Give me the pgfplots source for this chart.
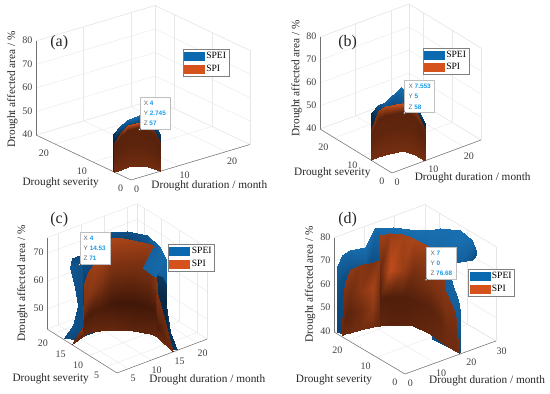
\documentclass[border=0pt]{standalone}
\usepackage{fontspec}
\usepackage{pgfplots}
\pgfplotsset{compat=1.18}
\setmainfont{Liberation Serif}
\newfontfamily\tipf{Liberation Sans}
\definecolor{speic}{RGB}{10,105,175}
\definecolor{spic}{RGB}{214,82,28}
\definecolor{tipc}{RGB}{25,155,235}
\tikzset{tipbox/.style={draw=black!25,fill=white,line width=.4pt,anchor=south west,minimum width=30pt,minimum height=32pt,inner sep=2pt,align=left,font=\tipf\fontsize{6.4}{10.2}\selectfont,text=black!60}}
\pgfplotsset{
 colormap={spi}{rgb255=(45,15,5) rgb255=(125,50,18) rgb255=(218,88,32)},
 colormap={spei}{rgb255=(5,25,45) rgb255=(14,78,132) rgb255=(30,125,195)},
 sf/.style={surf,shader=interp,point meta=explicit,forget plot,colormap name=#1},
 pan/.style={clip=false,anchor=origin,grid=major,grid style={black!9,line width=.4pt},
  axis line style={black!10,line width=.4pt},major tick length=0pt,
  point meta min=0,point meta max=1,
  /pgf/number format/assume math mode=true,
  tick label style={font=\fontsize{10}{12}\selectfont,text=black!75},
  xticklabel style={xshift=1pt,yshift=-1.5pt},yticklabel style={xshift=-5pt,yshift=-1pt},
  label style={font=\fontsize{11.3}{12}\selectfont,text=black!85},
  legend cell align=left,
  legend style={draw=black!50,line width=.4pt,font=\fontsize{9.6}{11}\selectfont,inner sep=1pt,row sep=.6pt,anchor=north west,fill=white},
  xlabel={Drought duration / month},ylabel={Drought severity},zlabel={Drought affected area / \%},
 },
 swa/.style={legend image code/.code={\fill[#1] (0pt,-4pt) rectangle (20pt,4pt);}},
 tipm/.style={only marks,mark=*,mark size=1.3pt,mark options={fill=white,draw=black!75,line width=.4pt},forget plot},
 edg/.style={black!55,line width=.5pt,forget plot},
}
\newcommand{\tiptxt}[3]{X {\color{tipc}\bfseries #1}\\Y {\color{tipc}\bfseries #2}\\Z {\color{tipc}\bfseries #3}}
\begin{document}
\begin{tikzpicture}
\useasboundingbox (0,0) rectangle (550pt,394pt);
% ---------------- (a)
\begin{axis}[pan,at={(131pt,214pt)},x={(4.76pt,1.42pt)},y={(-3.8pt,1.8pt)},z={(0pt,2.35pt)},
 xmin=0,xmax=25,ymin=0,ymax=25,zmin=40,zmax=80,xtick={0,10,20},ytick={0,10,20},ztick={40,50,60,70,80},
 xlabel style={at={(axis cs:0,0,40)},anchor=center,xshift=78.3pt,yshift=-6pt},
 ylabel style={at={(axis cs:0,0,40)},anchor=center,xshift=-70.3pt,yshift=-2.7pt},
 zlabel style={at={(axis cs:0,0,40)},anchor=center,xshift=90.7pt,yshift=118.7pt},
 legend style={at={(axis cs:0,0,40)},xshift=51.7pt,yshift=130.7pt}]
\addplot3[edg] coordinates {(0,0,40)(25,0,40)};
\addplot3[edg] coordinates {(0,0,40)(0,25,40)};
\addplot3[edg] coordinates {(0,25,40)(0,25,80)};
\addplot3[sf=spei,mesh/cols=4] table[meta=m,row sep=\\]{x y z m\\
0 4.7 40 .1\\0 4.7 47.9 .1\\0 4.7 52.6 .1\\0 4.7 55.8 .2\\
1.5 4.8 40 .1\\1.5 4.8 49.3 .1\\1.5 4.8 54.9 .15\\1.5 4.8 58.6 .6\\
3 4.8 40 .1\\3 4.8 50.1 .1\\3 4.8 56.2 .2\\3 4.8 60.2 .75\\
5 4.2 40 .1\\5 4.2 50.8 .1\\5 4.2 57.3 .2\\5 4.2 61.6 .9\\
5.8 2.8 40 .1\\5.8 2.8 49.8 .1\\5.8 2.8 55.7 .2\\5.8 2.8 59.6 .8\\
6 1.4 40 .1\\6 1.4 49.8 .1\\6 1.4 55.7 .2\\6 1.4 59.6 .6\\
6.3 0 40 .1\\6.3 0 47.3 .1\\6.3 0 51.7 .15\\6.3 0 54.6 .25\\
};
\addplot3[sf=spi,mesh/cols=4] table[meta=m,row sep=\\]{x y z m\\
0 4.4 40 .42\\0 4.4 46.2 .3\\0 4.4 50.9 .25\\0 4.4 52.4 .3\\
1.5 4.6 40 .42\\1.5 4.6 48 .3\\1.5 4.6 54.1 .28\\1.5 4.6 56 .5\\
3 4.6 40 .42\\3 4.6 49 .3\\3 4.6 55.8 .28\\3 4.6 58 .85\\
5 4 40 .42\\5 4 49.3 .3\\5 4 56.4 .28\\5 4 58.6 .95\\
5.7 2.7 40 .42\\5.7 2.7 48.7 .3\\5.7 2.7 55.3 .28\\5.7 2.7 57.4 .7\\
5.9 1.4 40 .42\\5.9 1.4 48.1 .3\\5.9 1.4 54.3 .28\\5.9 1.4 56.2 .4\\
6.1 0 40 .42\\6.1 0 46 .3\\6.1 0 50.6 .25\\6.1 0 52 .3\\
};
\node[tipbox] at (axis cs:4,2.745,57) {\tiptxt{4}{2.745}{57}};
\addplot3[tipm] coordinates {(4,2.745,57)};
\node[font=\fontsize{16}{18}\selectfont,text=black!85] at (axis cs:0,0,40) [xshift=-71.7pt,yshift=137.7pt] {(a)};
\addlegendimage{swa=speic}\addlegendentry{SPEI}
\addlegendimage{swa=spic}\addlegendentry{SPI}
\end{axis}
% ---------------- (b)
\begin{axis}[pan,at={(392pt,221pt)},x={(3.56pt,1.32pt)},y={(-2.88pt,1.76pt)},z={(0pt,2.3pt)},
 xmin=0,xmax=25,ymin=0,ymax=25,zmin=40,zmax=80,xtick={0,10,20},ytick={0,10,20},ztick={40,50,60,70,80},
 xlabel style={at={(axis cs:0,0,40)},anchor=center,xshift=80.7pt,yshift=-5.3pt},
 ylabel style={at={(axis cs:0,0,40)},anchor=center,xshift=-59.7pt,yshift=-.3pt},
 zlabel style={at={(axis cs:0,0,40)},anchor=center,xshift=94.7pt,yshift=95.3pt},
 legend style={at={(axis cs:0,0,40)},xshift=30.7pt,yshift=125.3pt}]
\addplot3[edg] coordinates {(0,0,40)(25,0,40)};
\addplot3[edg] coordinates {(0,0,40)(0,25,40)};
\addplot3[edg] coordinates {(0,25,40)(0,25,80)};
\addplot3[sf=spei,mesh/cols=4] table[meta=m,row sep=\\]{x y z m\\
0 7.4 40 .1\\0 7.4 50.3 .1\\0 7.4 56.4 .12\\0 7.4 60.5 .15\\
2 7.5 40 .1\\2 7.5 51.4 .1\\2 7.5 58.2 .2\\2 7.5 62.8 .5\\
3.9 7.4 40 .1\\3.9 7.4 51.5 .1\\3.9 7.4 58.4 .3\\3.9 7.4 63 .7\\
8 6.6 40 .1\\8 6.6 53.9 .1\\8 6.6 62.2 .6\\8 6.6 67.8 .85\\
8.8 5.1 40 .1\\8.8 5.1 52.5 .1\\8.8 5.1 60 .6\\8.8 5.1 65 .75\\
9.3 3.4 40 .1\\9.3 3.4 51.1 .1\\9.3 3.4 57.8 .2\\9.3 3.4 62.2 .5\\
9.4 0 40 .1\\9.4 0 48.2 .1\\9.4 0 53.1 .12\\9.4 0 56.4 .2\\
};
\addplot3[sf=spi,mesh/cols=4] table[meta=m,row sep=\\]{x y z m\\
0 7.3 40 .45\\0 7.3 46.6 .32\\0 7.3 50.7 .27\\0 7.3 53.1 .35\\
2 7.4 40 .45\\2 7.4 50.1 .32\\2 7.4 56.6 .3\\2 7.4 60.2 .6\\
3.9 7.3 40 .45\\3.9 7.3 50.6 .32\\3.9 7.3 57.3 .3\\3.9 7.3 61.1 .8\\
8 6.5 40 .45\\8 6.5 50.5 .32\\8 6.5 57.1 .3\\8 6.5 60.9 .95\\
8.8 5 40 .45\\8.8 5 50.4 .32\\8.8 5 57 .3\\8.8 5 60.7 .85\\
9.2 3.35 40 .45\\9.2 3.35 49.9 .32\\9.2 3.35 56.2 .3\\9.2 3.35 59.8 .6\\
9.27 0 40 .45\\9.27 0 46.7 .32\\9.27 0 51 .27\\9.27 0 53.4 .35\\
};
\node[tipbox] at (axis cs:7.553,5,58) {\tiptxt{7.553}{5}{58}};
\addplot3[tipm] coordinates {(7.553,5,58)};
\node[font=\fontsize{16}{18}\selectfont,text=black!85] at (axis cs:0,0,40) [xshift=-44.3pt,yshift=130.7pt] {(b)};
\addlegendimage{swa=speic}\addlegendentry{SPEI}
\addlegendimage{swa=spic}\addlegendentry{SPI}
\end{axis}
% ---------------- (c)
\begin{axis}[pan,at={(117pt,21pt)},x={(4.6pt,1.73pt)},y={(-3.53pt,2.22pt)},z={(0pt,2.78pt)},
 xmin=2.6,xmax=22.2,ymin=2.1,ymax=21.9,zmin=42.8,zmax=75.7,xtick={5,10,15,20},ytick={5,10,15,20},ztick={50,60,70},
 xlabel style={at={(axis cs:2.6,2.1,42.8)},anchor=center,xshift=90.3pt,yshift=-6.7pt},
 ylabel style={at={(axis cs:2.6,2.1,42.8)},anchor=center,xshift=-66.3pt,yshift=-5.7pt},
 zlabel style={at={(axis cs:2.6,2.1,42.8)},anchor=center,xshift=89.3pt,yshift=94.7pt},
 legend style={at={(axis cs:2.6,2.1,42.8)},xshift=51.3pt,yshift=128.7pt}]
\addplot3[edg] coordinates {(2.6,2.1,42.8)(22.2,2.1,42.8)};
\addplot3[edg] coordinates {(2.6,2.1,42.8)(2.6,21.9,42.8)};
\addplot3[edg] coordinates {(2.6,21.9,42.8)(2.6,21.9,75.7)};
% left lobe
\addplot3[sf=spei,mesh/cols=2] table[meta=m,row sep=\\]{x y z m\\
3.17 17.86 42.3 .5\\4.99 16.45 41.6 .4\\
4.44 16.87 47.1 .55\\6.71 15.11 45.2 .4\\
5.12 16.34 54.3 .5\\6.94 14.93 53.6 .4\\
4.67 16.7 60.3 .55\\6.94 14.93 60.8 .4\\
3.99 17.23 67.5 .6\\7.17 14.76 66.8 .45\\
4.22 17.05 71.1 .45\\7.62 14.4 70.4 .5\\
5.35 16.17 72.2 .4\\8.07 14.05 73.4 .5\\
};
% body
\addplot3[sf=spei,mesh/cols=3] table[meta=m,row sep=\\]{x y z m\\
5.95 16 42.8 .3\\5.95 16 63.6 .4\\5.95 16 72.5 .5\\
9.66 16.11 42.8 .3\\9.66 16.11 65.5 .3\\9.66 16.11 75.2 .6\\
11.16 15.24 42.8 .3\\11.16 15.24 67.3 .2\\11.16 15.24 77.8 .55\\
13.43 13.48 42.8 .3\\13.43 13.48 67.5 .2\\13.43 13.48 78.05 .5\\
15.72 10.79 42.8 .3\\15.72 10.79 67 .35\\15.72 10.79 77.3 .6\\
15.88 7.22 42.8 .3\\15.88 7.22 66 .7\\15.88 7.22 75.9 .8\\
15.34 4.63 70.4 .75\\15.34 4.63 72.15 .75\\15.34 4.63 72.9 .75\\
};
% right dark lobe
\addplot3[sf=spei,mesh/cols=3] table[meta=m,row sep=\\]{x y z m\\
15.78 8.04 42.8 .12\\15.78 8.04 58.3 .15\\15.78 8.04 65 .3\\
15.6 6.38 42.8 .15\\15.6 6.38 58.9 .15\\15.6 6.38 65.8 .3\\
15.6 5.17 42.8 .2\\15.6 5.17 57.6 .12\\15.6 5.17 63.9 .25\\
15.59 5.05 42.8 .25\\15.59 5.05 52.6 .14\\15.59 5.05 56.8 .25\\
15.07 3.34 42.8 .3\\15.07 3.34 47.1 .2\\15.07 3.34 48.9 .3\\
15.78 2.19 42.8 .35\\15.78 2.19 42.8 .3\\15.78 2.19 42.8 .3\\
};
\addplot3[sf=spi,mesh/cols=4] table[meta=m,row sep=\\]{x y z m\\
2.8 15.2 42.8 .35\\2.8 15.2 42.8 .3\\2.8 15.2 42.8 .3\\2.8 15.2 42.8 .3\\
4.55 15.6 42.8 .35\\4.55 15.6 43.4 .35\\4.55 15.6 44 .4\\4.55 15.6 44.7 .45\\
5.95 16 42.8 .35\\5.95 16 43.8 .3\\5.95 16 44.8 .5\\5.95 16 46.2 .55\\
6.23 16.08 42.8 .35\\6.23 16.08 48.4 .25\\6.23 16.08 53.9 .5\\6.23 16.08 61.3 .6\\
7.35 16.4 42.8 .35\\7.35 16.4 49.4 .2\\7.35 16.4 55.9 .55\\7.35 16.4 64.7 .62\\
9.37 15.74 42.8 .35\\9.37 15.74 51 .2\\9.37 15.74 59.1 .5\\9.37 15.74 70 .7\\
10.42 15.22 42.8 .35\\10.42 15.22 52 .16\\10.42 15.22 61.2 .45\\10.42 15.22 73.4 .75\\
11.1 14.69 42.8 .35\\11.1 14.69 52.8 .14\\11.1 14.69 62.8 .42\\11.1 14.69 76.1 .75\\
12.69 13.46 42.8 .32\\12.69 13.46 52.8 .12\\12.69 13.46 62.7 .4\\12.69 13.46 76 .72\\
13.91 12.21 42.8 .3\\13.91 12.21 52.7 .12\\13.91 12.21 62.5 .38\\13.91 12.21 75.7 .7\\
15.6 9.69 42.8 .32\\15.6 9.69 52.5 .14\\15.6 9.69 62.2 .4\\15.6 9.69 75.2 .65\\
15.74 8.37 42.8 .35\\15.74 8.37 52.4 .16\\15.74 8.37 62.1 .5\\15.74 8.37 74.9 .6\\
15.78 8.04 42.8 .35\\15.78 8.04 47.5 .2\\15.78 8.04 52.3 .4\\15.78 8.04 58.6 .5\\
15.47 5.74 42.8 .38\\15.47 5.74 45.9 .28\\15.47 5.74 49 .35\\15.47 5.74 53.2 .4\\
15.21 3.99 42.8 .4\\15.21 3.99 44.2 .38\\15.21 3.99 45.7 .4\\15.21 3.99 47.6 .4\\
14.85 2.1 42.8 .42\\14.85 2.1 42.8 .4\\14.85 2.1 42.8 .4\\14.85 2.1 42.8 .4\\
};
% blue wedge in front of the orange surface
\addplot3[sf=spei,mesh/cols=2] table[meta=m,row sep=\\]{x y z m\\
14.98 10.77 65.8 .72\\15.69 8.87 74.6 .7\\
15.77 8.5 64 .75\\15.4 5.19 72.9 .8\\
};
\node[tipbox] at (axis cs:4,14.53,71) {\tiptxt{4}{14.53}{71}};
\addplot3[tipm] coordinates {(4,14.53,71)};
\node[font=\fontsize{16}{18}\selectfont,text=black!85] at (axis cs:2.6,2.1,42.8) [xshift=-57.7pt,yshift=153.3pt] {(c)};
\addlegendimage{swa=speic}\addlegendentry{SPEI}
\addlegendimage{swa=spic}\addlegendentry{SPI}
\end{axis}
% ---------------- (d)
\begin{axis}[pan,at={(405pt,20pt)},x={(3.03pt,1.1pt)},y={(-2.84pt,1.68pt)},z={(0pt,2.36pt)},
 xmin=0,xmax=30,ymin=0,ymax=25,zmin=40,zmax=80,xtick={0,10,20,30},ytick={0,10,20},ztick={40,50,60,70,80},
 xlabel style={at={(axis cs:0,0,40)},anchor=center,xshift=82pt,yshift=-7pt},
 ylabel style={at={(axis cs:0,0,40)},anchor=center,xshift=-71pt,yshift=-6.3pt},
 zlabel style={at={(axis cs:0,0,40)},anchor=center,xshift=89.7pt,yshift=95pt},
 legend style={at={(axis cs:0,0,40)},xshift=63.3pt,yshift=104.7pt}]
\addplot3[edg] coordinates {(0,0,40)(30,0,40)};
\addplot3[edg] coordinates {(0,0,40)(0,25,40)};
\addplot3[edg] coordinates {(0,25,40)(0,25,80)};
\addplot3[sf=spei,mesh/cols=3] table[meta=m,row sep=\\]{x y z m\\
.66 24.76 40 .4\\.66 24.76 40 .4\\.66 24.76 40 .4\\
.73 24.72 40 .4\\.73 24.72 58.7 .5\\.73 24.72 66.7 .6\\
.79 24.67 40 .4\\.79 24.67 59.3 .55\\.79 24.67 67.5 .7\\
.76 23.11 40 .4\\.76 23.11 63.5 .5\\.76 23.11 73.6 .75\\
3.62 23.23 40 .4\\3.62 23.23 64 .5\\3.62 23.23 74.3 .8\\
7.84 22.45 40 .4\\7.84 22.45 64 .55\\7.84 22.45 74.3 .85\\
9.09 22.02 40 .4\\9.09 22.02 66.8 .5\\9.09 22.02 78.3 .85\\
10.57 21.84 40 .4\\10.57 21.84 68.8 .55\\10.57 21.84 81.2 .8\\
15.02 20.13 40 .4\\15.02 20.13 68.8 .6\\15.02 20.13 81.1 .85\\
18.87 16.02 40 .4\\18.87 16.02 68.6 .65\\18.87 16.02 80.8 .85\\
19.63 12.14 40 .4\\19.63 12.14 70.2 .75\\19.63 12.14 83.1 .85\\
22 11.15 68.5 .75\\22 11.15 79 .8\\22 11.15 83.5 .85\\
25 7.3 70.6 .7\\25 7.3 80 .85\\25 7.3 84 .85\\
27 5.33 71.8 .55\\27 5.33 77.9 .75\\27 5.33 80.4 .8\\
27 3.57 75.9 .5\\27 3.57 75.9 .5\\27 3.57 75.9 .5\\
};
\addplot3[sf=spei,mesh/cols=3] table[meta=m,row sep=\\]{x y z m\\
17.67 9.46 40 .5\\17.67 9.46 63.2 .6\\17.67 9.46 73.2 .7\\
18.2 4.16 40 .5\\18.2 4.16 64.8 .7\\18.2 4.16 75.5 .7\\
18.3 3.09 40 .5\\18.3 3.09 59.4 .7\\18.3 3.09 67.7 .72\\
18.5 .97 40 .5\\18.5 .97 55.4 .65\\18.5 .97 62 .7\\
18.54 .17 40 .4\\18.54 .17 50.9 .55\\18.54 .17 55.5 .6\\
18.5 .05 40 .3\\18.5 .05 40 .3\\18.5 .05 40 .3\\
};
\addplot3[sf=spi,mesh/cols=4] table[meta=m,row sep=\\]{x y z m\\
.53 22.87 40 .4\\.53 22.87 40 .4\\.53 22.87 40 .4\\.53 22.87 40 .4\\
.73 22.73 40 .4\\.73 22.73 44.4 .35\\.73 22.73 48.9 .4\\.73 22.73 54.8 .45\\
1.45 22.67 40 .4\\1.45 22.67 46.5 .3\\1.45 22.67 53 .4\\1.45 22.67 61.6 .55\\
2.93 22.49 40 .4\\2.93 22.49 48 .3\\2.93 22.49 56 .42\\2.93 22.49 66.7 .6\\
5.9 22.14 40 .42\\5.9 22.14 48.3 .4\\5.9 22.14 56.6 .55\\5.9 22.14 67.7 .55\\
9.78 21.58 40 .42\\9.78 21.58 48.3 .6\\9.78 21.58 56.6 .72\\9.78 21.58 67.7 .5\\
11.17 21.07 40 .38\\11.17 21.07 48.4 .4\\11.17 21.07 56.8 .5\\11.17 21.07 68 .55\\
11.55 21.01 40 .32\\11.55 21.01 51.6 .22\\11.55 21.01 63.2 .38\\11.55 21.01 78.6 .7\\
13.87 20.08 40 .28\\13.87 20.08 51.7 .22\\13.87 20.08 63.5 .85\\13.87 20.08 79.1 .65\\
16.26 18.52 40 .28\\16.26 18.52 51.5 .22\\16.26 18.52 63 .65\\16.26 18.52 78.4 .7\\
18.3 16.59 40 .3\\18.3 16.59 51.1 .24\\18.3 16.59 62.3 .45\\18.3 16.59 77.1 .75\\
19.06 11.53 40 .34\\19.06 11.53 51.1 .28\\19.06 11.53 62.1 .5\\19.06 11.53 76.9 .7\\
18.34 6.65 40 .38\\18.34 6.65 49.2 .34\\18.34 6.65 58.5 .5\\18.34 6.65 70.8 .6\\
18.21 5.34 40 .4\\18.21 5.34 47 .4\\18.21 5.34 54 .48\\18.21 5.34 63.3 .55\\
18.29 1.91 40 .42\\18.29 1.91 44.7 .42\\18.29 1.91 49.5 .45\\18.29 1.91 55.8 .5\\
18.26 .35 40 .42\\18.26 .35 40 .42\\18.26 .35 40 .42\\18.26 .35 40 .42\\
};
\node[tipbox] at (axis cs:7,0,76.68) {\tiptxt{7}{0}{76.68}};
\addplot3[tipm] coordinates {(7,0,76.68)};
\node[font=\fontsize{16}{18}\selectfont,text=black!85] at (axis cs:0,0,40) [xshift=-57.3pt,yshift=154.3pt] {(d)};
\addlegendimage{swa=speic}\addlegendentry{SPEI}
\addlegendimage{swa=spic}\addlegendentry{SPI}
\end{axis}
\end{tikzpicture}
\end{document}
